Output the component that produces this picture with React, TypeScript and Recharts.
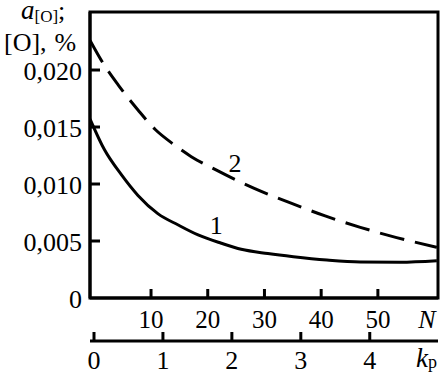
import { LineChart, Line, XAxis, YAxis, ReferenceArea, ReferenceDot, Label } from 'recharts';

const FONT = "'Liberation Serif', 'DejaVu Serif', serif";

// curve 1 (solid): N and a[O]/[O], %
const curve1N = [-0.75, 1.8, 4.8, 7.7, 11.2, 14.8, 18.3, 22.4, 25.9, 30.6, 35.1, 41.0, 46.9, 53.9, 60.4];
const curve1V = [0.0157, 0.0130, 0.0108, 0.0090, 0.0074, 0.0064, 0.00553, 0.0048, 0.00427, 0.0039, 0.00362, 0.00333, 0.00316, 0.00314, 0.00327];

// curve 2 (dashed)
const curve2N = [-0.75, 1.8, 4.2, 7.7, 10.7, 14.2, 17.1, 21.2, 24.8, 28.3, 34.8, 40.7, 46.9, 53.3, 60.4];
const curve2V = [0.0226, 0.0204, 0.0187, 0.0165, 0.0148, 0.0134, 0.0124, 0.0113, 0.0104, 0.0096, 0.0083, 0.0072, 0.0062, 0.0053, 0.00445];

const yTicks = [0, 0.005, 0.01, 0.015, 0.02];
const nTicks = [10, 20, 30, 40, 50];
const kTicks = [0, 1, 2, 3, 4];

const nDomain = [-0.76, 60.6];
const kDomain = [-0.058, 4.99];
const yDomain = [0, 0.02509];

const series1 = curve1N.map((n, i) => ({ n, v: curve1V[i] }));
const series2 = curve2N.map((n, i) => ({ n, v: curve2V[i] }));
// empty helper series so the k axis gets a scale and ticks
const kSeries = kTicks.map((k) => ({ k, v: null }));

const fmtY = (v: number) => (v === 0 ? '0' : v.toFixed(3).replace('.', ','));

const txt = { fontFamily: FONT };

const YTick = (props: any) => {
  const { x, y, payload } = props;
  return (
    <g>
      {payload.value !== 0 && <line x1={x + 8} x2={x + 18} y1={y} y2={y} stroke="#000" strokeWidth={3} />}
      <text x={x} y={y + 10} textAnchor="end" fontSize={26} style={txt} fill="#000">
        {fmtY(payload.value)}
      </text>
    </g>
  );
};

const NTick = (props: any) => {
  const { x, y, payload } = props;
  return (
    <g>
      <line x1={x} x2={x} y1={y} y2={y - 9} stroke="#000" strokeWidth={3} />
      <text x={x} y={y + 30} textAnchor="middle" fontSize={25} style={txt} fill="#000">
        {payload.value}
      </text>
    </g>
  );
};

const KTick = (props: any) => {
  const { x, y, payload } = props;
  return (
    <g>
      <line x1={x} x2={x} y1={y} y2={y - 9} stroke="#000" strokeWidth={3} />
      <text x={x} y={y + 28} textAnchor="middle" fontSize={26} style={txt} fill="#000">
        {payload.value}
      </text>
    </g>
  );
};

const NLabel = (props: any) => {
  const { x, y, width } = props.viewBox;
  return (
    <text x={x + width - 11} y={y + 30} textAnchor="middle" fontSize={26} fontStyle="italic" style={txt} fill="#000">
      N
    </text>
  );
};

const KLabel = (props: any) => {
  const { x, y, width } = props.viewBox;
  return (
    <text x={x + width - 22} y={y + 26} style={txt} fill="#000">
      <tspan fontSize={27} fontStyle="italic">k</tspan>
      <tspan fontSize={18} dy={1}>р</tspan>
    </text>
  );
};

const YTitle = (props: any) => {
  const { y } = props.viewBox;
  return (
    <g style={txt} fill="#000">
      <text x={21} y={y + 7}>
        <tspan fontSize={27} fontStyle="italic">a</tspan>
        <tspan fontSize={17} dy={3}>[O]</tspan>
        <tspan fontSize={26} dy={-3}>;</tspan>
      </text>
      <text x={4} y={y + 39} fontSize={26}>
        [O],<tspan dx={8}>%</tspan>
      </text>
    </g>
  );
};

export default function App() {
  return (
    <div style={{ position: 'absolute', left: 0, top: 0, width: 445, height: 381, background: '#fff', fontFamily: FONT }}>
      <LineChart width={445} height={381} margin={{ top: 12, right: 7, bottom: 0, left: 0 }} style={txt}>
        <XAxis
          dataKey="n"
          type="number"
          domain={nDomain}
          allowDataOverflow
          ticks={nTicks}
          height={43}
          axisLine={{ stroke: '#000', strokeWidth: 3 }}
          tickLine={false}
          tickSize={0}
          tickMargin={0}
          tick={<NTick />}
          interval={0}
        >
          <Label content={<NLabel />} />
        </XAxis>
        <XAxis
          xAxisId="k"
          dataKey="k"
          type="number"
          domain={kDomain}
          allowDataOverflow
          ticks={kTicks}
          height={40}
          axisLine={{ stroke: '#000', strokeWidth: 3 }}
          tickLine={false}
          tickSize={0}
          tickMargin={0}
          tick={<KTick />}
          interval={0}
        >
          <Label content={<KLabel />} />
        </XAxis>
        <YAxis
          type="number"
          domain={yDomain}
          allowDataOverflow
          ticks={yTicks}
          width={90}
          axisLine={{ stroke: '#000', strokeWidth: 3 }}
          tickLine={false}
          tickSize={0}
          tickMargin={8}
          tick={<YTick />}
          interval={0}
        >
          <Label content={<YTitle />} />
        </YAxis>
        <ReferenceArea
          x1={nDomain[0]}
          x2={nDomain[1]}
          y1={yDomain[0]}
          y2={yDomain[1]}
          fill="none"
          fillOpacity={0}
          stroke="#000"
          strokeWidth={3}
          strokeOpacity={1}
        />
        <Line
          xAxisId="k"
          data={kSeries}
          dataKey="v"
          stroke="none"
          dot={false}
          legendType="none"
          isAnimationActive={false}
        />
        <Line
          data={series1}
          dataKey="v"
          type="monotone"
          stroke="#000"
          strokeWidth={3}
          dot={false}
          isAnimationActive={false}
        />
        <Line
          data={series2}
          dataKey="v"
          type="monotone"
          stroke="#000"
          strokeWidth={3}
          strokeDasharray="25 11"
          dot={false}
          isAnimationActive={false}
        />
        <ReferenceDot x={21.5} y={0.0064} r={0} label={{ value: '1', position: 'center', fontSize: 26, fill: '#000', style: txt }} />
        <ReferenceDot x={24.8} y={0.01184} r={0} label={{ value: '2', position: 'center', fontSize: 26, fill: '#000', style: txt }} />
      </LineChart>
    </div>
  );
}
